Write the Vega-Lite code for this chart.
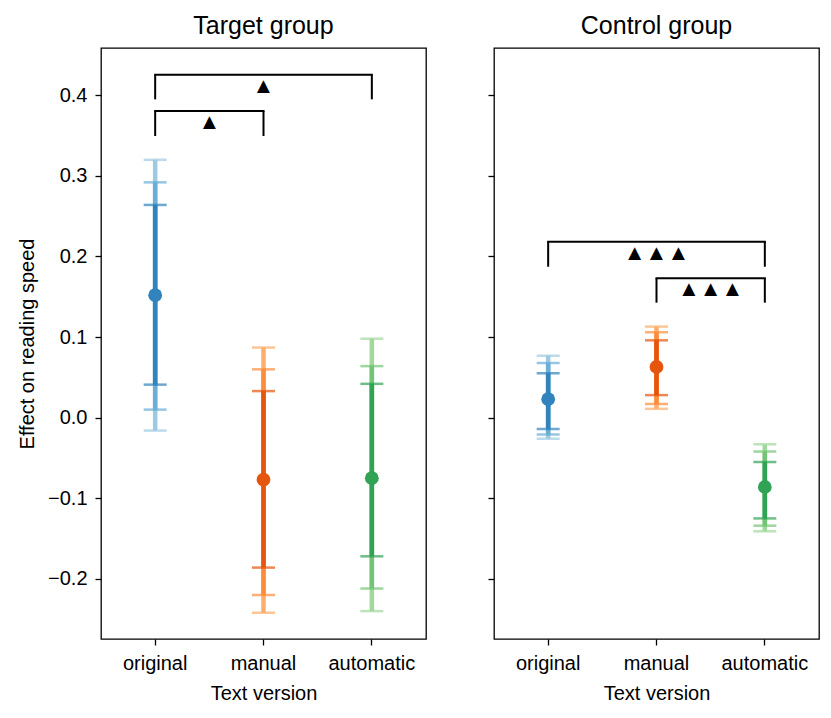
{
  "$schema": "https://vega.github.io/schema/vega-lite/v6.json",
  "padding": {"left": 16, "top": 13, "right": 5, "bottom": 5},
  "datasets": {
    "estimates": [
      {"group": "Target group", "version": "original", "mean": 0.152, "lo1": 0.041, "hi1": 0.264, "lo2": 0.010, "hi2": 0.292, "lo3": -0.016, "hi3": 0.320},
      {"group": "Target group", "version": "manual", "mean": -0.077, "lo1": -0.186, "hi1": 0.033, "lo2": -0.220, "hi2": 0.060, "lo3": -0.242, "hi3": 0.087},
      {"group": "Target group", "version": "automatic", "mean": -0.075, "lo1": -0.172, "hi1": 0.042, "lo2": -0.212, "hi2": 0.064, "lo3": -0.240, "hi3": 0.098},
      {"group": "Control group", "version": "original", "mean": 0.023, "lo1": -0.014, "hi1": 0.055, "lo2": -0.021, "hi2": 0.068, "lo3": -0.026, "hi3": 0.077},
      {"group": "Control group", "version": "manual", "mean": 0.063, "lo1": 0.028, "hi1": 0.096, "lo2": 0.017, "hi2": 0.106, "lo3": 0.011, "hi3": 0.113},
      {"group": "Control group", "version": "automatic", "mean": -0.086, "lo1": -0.125, "hi1": -0.055, "lo2": -0.134, "hi2": -0.042, "lo3": -0.141, "hi3": -0.033}
    ],
    "brackets": [
      {"group": "Target group", "from": "original", "to": "manual", "top": 0.3805, "bottom": 0.3495, "marks": "▲", "adjacent": true},
      {"group": "Target group", "from": "original", "to": "automatic", "top": 0.4256, "bottom": 0.395, "marks": "▲", "adjacent": false},
      {"group": "Control group", "from": "original", "to": "automatic", "top": 0.2184, "bottom": 0.1873, "marks": "▲▲▲", "adjacent": false},
      {"group": "Control group", "from": "manual", "to": "automatic", "top": 0.173, "bottom": 0.1427, "marks": "▲▲▲", "adjacent": true}
    ]
  },
  "spacing": 59,
  "hconcat": [
    {
      "title": "Target group",
      "width": 325,
      "height": 591,
      "layer": [
        {
          "data": {"name": "estimates"},
          "transform": [{"filter": "datum.group == 'Target group'"}],
          "mark": {"type": "rule", "strokeWidth": 4.5},
          "encoding": {
            "x": {"field": "version", "type": "nominal", "sort": null, "scale": {"type": "band", "domain": ["original", "manual", "automatic"], "paddingInner": 0, "paddingOuter": 0}, "axis": {"title": "Text version", "labelAngle": 0}},
            "y": {"field": "lo3", "type": "quantitative", "scale": {"domain": [-0.2746, 0.4587], "nice": false, "zero": false}, "axis": {"title": "Effect on reading speed", "values": [-0.2, -0.1, 0, 0.1, 0.2, 0.3, 0.4], "format": ".1f"}},
            "y2": {"field": "hi3"},
            "color": {"condition": [{"test": "datum.version == 'original'", "value": "#9ecae1"}, {"test": "datum.version == 'manual'", "value": "#fdae6b"}], "value": "#a1d99b"}
          }
        },
        {
          "data": {"name": "estimates"},
          "transform": [{"filter": "datum.group == 'Target group'"}, {"fold": ["lo3", "hi3"], "as": ["end", "value"]}],
          "mark": {"type": "tick", "orient": "horizontal", "size": 23, "thickness": 2.5},
          "encoding": {
            "x": {"field": "version", "type": "nominal", "sort": null},
            "y": {"field": "value", "type": "quantitative"},
            "color": {"condition": [{"test": "datum.version == 'original'", "value": "#9ecae1"}, {"test": "datum.version == 'manual'", "value": "#fdae6b"}], "value": "#a1d99b"}
          }
        },
        {
          "data": {"name": "estimates"},
          "transform": [{"filter": "datum.group == 'Target group'"}],
          "mark": {"type": "rule", "strokeWidth": 4.5},
          "encoding": {
            "x": {"field": "version", "type": "nominal", "sort": null},
            "y": {"field": "lo2", "type": "quantitative"},
            "y2": {"field": "hi2"},
            "color": {"condition": [{"test": "datum.version == 'original'", "value": "#6baed6"}, {"test": "datum.version == 'manual'", "value": "#fd8d3c"}], "value": "#74c476"}
          }
        },
        {
          "data": {"name": "estimates"},
          "transform": [{"filter": "datum.group == 'Target group'"}, {"fold": ["lo2", "hi2"], "as": ["end", "value"]}],
          "mark": {"type": "tick", "orient": "horizontal", "size": 23, "thickness": 2.5},
          "encoding": {
            "x": {"field": "version", "type": "nominal", "sort": null},
            "y": {"field": "value", "type": "quantitative"},
            "color": {"condition": [{"test": "datum.version == 'original'", "value": "#6baed6"}, {"test": "datum.version == 'manual'", "value": "#fd8d3c"}], "value": "#74c476"}
          }
        },
        {
          "data": {"name": "estimates"},
          "transform": [{"filter": "datum.group == 'Target group'"}],
          "mark": {"type": "rule", "strokeWidth": 4.5},
          "encoding": {
            "x": {"field": "version", "type": "nominal", "sort": null},
            "y": {"field": "lo1", "type": "quantitative"},
            "y2": {"field": "hi1"},
            "color": {"condition": [{"test": "datum.version == 'original'", "value": "#3182bd"}, {"test": "datum.version == 'manual'", "value": "#e6550d"}], "value": "#31a354"}
          }
        },
        {
          "data": {"name": "estimates"},
          "transform": [{"filter": "datum.group == 'Target group'"}, {"fold": ["lo1", "hi1"], "as": ["end", "value"]}],
          "mark": {"type": "tick", "orient": "horizontal", "size": 23, "thickness": 2.5},
          "encoding": {
            "x": {"field": "version", "type": "nominal", "sort": null},
            "y": {"field": "value", "type": "quantitative"},
            "color": {"condition": [{"test": "datum.version == 'original'", "value": "#3182bd"}, {"test": "datum.version == 'manual'", "value": "#e6550d"}], "value": "#31a354"}
          }
        },
        {
          "data": {"name": "estimates"},
          "transform": [{"filter": "datum.group == 'Target group'"}],
          "mark": {"type": "point", "filled": true, "opacity": 1, "size": 190},
          "encoding": {
            "x": {"field": "version", "type": "nominal", "sort": null},
            "y": {"field": "mean", "type": "quantitative"},
            "color": {"condition": [{"test": "datum.version == 'original'", "value": "#3182bd"}, {"test": "datum.version == 'manual'", "value": "#e6550d"}], "value": "#31a354"}
          }
        },
        {
          "data": {"name": "brackets"},
          "transform": [{"filter": "datum.group == 'Target group'"}],
          "mark": {"type": "rule", "strokeWidth": 2, "color": "black", "strokeCap": "square"},
          "encoding": {
            "x": {"field": "from", "type": "nominal", "sort": null},
            "x2": {"field": "to"},
            "y": {"field": "top", "type": "quantitative"}
          }
        },
        {
          "data": {"name": "brackets"},
          "transform": [{"filter": "datum.group == 'Target group'"}],
          "mark": {"type": "rule", "strokeWidth": 2, "color": "black"},
          "encoding": {
            "x": {"field": "from", "type": "nominal", "sort": null},
            "y": {"field": "top", "type": "quantitative"},
            "y2": {"field": "bottom"}
          }
        },
        {
          "data": {"name": "brackets"},
          "transform": [{"filter": "datum.group == 'Target group'"}],
          "mark": {"type": "rule", "strokeWidth": 2, "color": "black"},
          "encoding": {
            "x": {"field": "to", "type": "nominal", "sort": null},
            "y": {"field": "top", "type": "quantitative"},
            "y2": {"field": "bottom"}
          }
        },
        {
          "data": {"name": "brackets"},
          "transform": [{"filter": "datum.group == 'Target group' && datum.adjacent"}],
          "mark": {"type": "text", "baseline": "top", "dy": 1, "fontSize": 22, "color": "black"},
          "encoding": {
            "x": {"field": "from", "type": "nominal", "sort": null, "bandPosition": 1},
            "y": {"field": "top", "type": "quantitative"},
            "text": {"field": "marks"}
          }
        },
        {
          "data": {"name": "brackets"},
          "transform": [{"filter": "datum.group == 'Target group' && !datum.adjacent"}],
          "mark": {"type": "text", "baseline": "top", "dy": 1, "fontSize": 22, "color": "black"},
          "encoding": {
            "x": {"field": "from", "type": "nominal", "sort": null, "bandPosition": 1.5},
            "y": {"field": "top", "type": "quantitative"},
            "text": {"field": "marks"}
          }
        }
      ]
    },
    {
      "title": "Control group",
      "width": 325,
      "height": 591,
      "layer": [
        {
          "data": {"name": "estimates"},
          "transform": [{"filter": "datum.group == 'Control group'"}],
          "mark": {"type": "rule", "strokeWidth": 4.5},
          "encoding": {
            "x": {"field": "version", "type": "nominal", "sort": null, "scale": {"type": "band", "domain": ["original", "manual", "automatic"], "paddingInner": 0, "paddingOuter": 0}, "axis": {"title": "Text version", "labelAngle": 0}},
            "y": {"field": "lo3", "type": "quantitative", "scale": {"domain": [-0.2746, 0.4587], "nice": false, "zero": false}, "axis": {"title": null, "labels": false, "values": [-0.2, -0.1, 0, 0.1, 0.2, 0.3, 0.4]}},
            "y2": {"field": "hi3"},
            "color": {"condition": [{"test": "datum.version == 'original'", "value": "#9ecae1"}, {"test": "datum.version == 'manual'", "value": "#fdae6b"}], "value": "#a1d99b"}
          }
        },
        {
          "data": {"name": "estimates"},
          "transform": [{"filter": "datum.group == 'Control group'"}, {"fold": ["lo3", "hi3"], "as": ["end", "value"]}],
          "mark": {"type": "tick", "orient": "horizontal", "size": 23, "thickness": 2.5},
          "encoding": {
            "x": {"field": "version", "type": "nominal", "sort": null},
            "y": {"field": "value", "type": "quantitative"},
            "color": {"condition": [{"test": "datum.version == 'original'", "value": "#9ecae1"}, {"test": "datum.version == 'manual'", "value": "#fdae6b"}], "value": "#a1d99b"}
          }
        },
        {
          "data": {"name": "estimates"},
          "transform": [{"filter": "datum.group == 'Control group'"}],
          "mark": {"type": "rule", "strokeWidth": 4.5},
          "encoding": {
            "x": {"field": "version", "type": "nominal", "sort": null},
            "y": {"field": "lo2", "type": "quantitative"},
            "y2": {"field": "hi2"},
            "color": {"condition": [{"test": "datum.version == 'original'", "value": "#6baed6"}, {"test": "datum.version == 'manual'", "value": "#fd8d3c"}], "value": "#74c476"}
          }
        },
        {
          "data": {"name": "estimates"},
          "transform": [{"filter": "datum.group == 'Control group'"}, {"fold": ["lo2", "hi2"], "as": ["end", "value"]}],
          "mark": {"type": "tick", "orient": "horizontal", "size": 23, "thickness": 2.5},
          "encoding": {
            "x": {"field": "version", "type": "nominal", "sort": null},
            "y": {"field": "value", "type": "quantitative"},
            "color": {"condition": [{"test": "datum.version == 'original'", "value": "#6baed6"}, {"test": "datum.version == 'manual'", "value": "#fd8d3c"}], "value": "#74c476"}
          }
        },
        {
          "data": {"name": "estimates"},
          "transform": [{"filter": "datum.group == 'Control group'"}],
          "mark": {"type": "rule", "strokeWidth": 4.5},
          "encoding": {
            "x": {"field": "version", "type": "nominal", "sort": null},
            "y": {"field": "lo1", "type": "quantitative"},
            "y2": {"field": "hi1"},
            "color": {"condition": [{"test": "datum.version == 'original'", "value": "#3182bd"}, {"test": "datum.version == 'manual'", "value": "#e6550d"}], "value": "#31a354"}
          }
        },
        {
          "data": {"name": "estimates"},
          "transform": [{"filter": "datum.group == 'Control group'"}, {"fold": ["lo1", "hi1"], "as": ["end", "value"]}],
          "mark": {"type": "tick", "orient": "horizontal", "size": 23, "thickness": 2.5},
          "encoding": {
            "x": {"field": "version", "type": "nominal", "sort": null},
            "y": {"field": "value", "type": "quantitative"},
            "color": {"condition": [{"test": "datum.version == 'original'", "value": "#3182bd"}, {"test": "datum.version == 'manual'", "value": "#e6550d"}], "value": "#31a354"}
          }
        },
        {
          "data": {"name": "estimates"},
          "transform": [{"filter": "datum.group == 'Control group'"}],
          "mark": {"type": "point", "filled": true, "opacity": 1, "size": 190},
          "encoding": {
            "x": {"field": "version", "type": "nominal", "sort": null},
            "y": {"field": "mean", "type": "quantitative"},
            "color": {"condition": [{"test": "datum.version == 'original'", "value": "#3182bd"}, {"test": "datum.version == 'manual'", "value": "#e6550d"}], "value": "#31a354"}
          }
        },
        {
          "data": {"name": "brackets"},
          "transform": [{"filter": "datum.group == 'Control group'"}],
          "mark": {"type": "rule", "strokeWidth": 2, "color": "black", "strokeCap": "square"},
          "encoding": {
            "x": {"field": "from", "type": "nominal", "sort": null},
            "x2": {"field": "to"},
            "y": {"field": "top", "type": "quantitative"}
          }
        },
        {
          "data": {"name": "brackets"},
          "transform": [{"filter": "datum.group == 'Control group'"}],
          "mark": {"type": "rule", "strokeWidth": 2, "color": "black"},
          "encoding": {
            "x": {"field": "from", "type": "nominal", "sort": null},
            "y": {"field": "top", "type": "quantitative"},
            "y2": {"field": "bottom"}
          }
        },
        {
          "data": {"name": "brackets"},
          "transform": [{"filter": "datum.group == 'Control group'"}],
          "mark": {"type": "rule", "strokeWidth": 2, "color": "black"},
          "encoding": {
            "x": {"field": "to", "type": "nominal", "sort": null},
            "y": {"field": "top", "type": "quantitative"},
            "y2": {"field": "bottom"}
          }
        },
        {
          "data": {"name": "brackets"},
          "transform": [{"filter": "datum.group == 'Control group' && datum.adjacent"}],
          "mark": {"type": "text", "baseline": "top", "dy": 1, "fontSize": 22, "color": "black"},
          "encoding": {
            "x": {"field": "from", "type": "nominal", "sort": null, "bandPosition": 1},
            "y": {"field": "top", "type": "quantitative"},
            "text": {"field": "marks"}
          }
        },
        {
          "data": {"name": "brackets"},
          "transform": [{"filter": "datum.group == 'Control group' && !datum.adjacent"}],
          "mark": {"type": "text", "baseline": "top", "dy": 1, "fontSize": 22, "color": "black"},
          "encoding": {
            "x": {"field": "from", "type": "nominal", "sort": null, "bandPosition": 1.5},
            "y": {"field": "top", "type": "quantitative"},
            "text": {"field": "marks"}
          }
        }
      ]
    }
  ],
  "config": {
    "font": "Liberation Sans",
    "background": "white",
    "view": {"stroke": "black", "strokeWidth": 1.3},
    "axis": {"domain": false, "grid": false, "tickColor": "black", "tickSize": 6, "tickWidth": 1.3, "labelColor": "black", "labelFontSize": 20, "labelPadding": 8, "titleColor": "black", "titleFontSize": 20, "titleFontWeight": "normal", "titlePadding": 10},
    "title": {"fontSize": 25, "fontWeight": "normal", "color": "black", "offset": 9}
  }
}
